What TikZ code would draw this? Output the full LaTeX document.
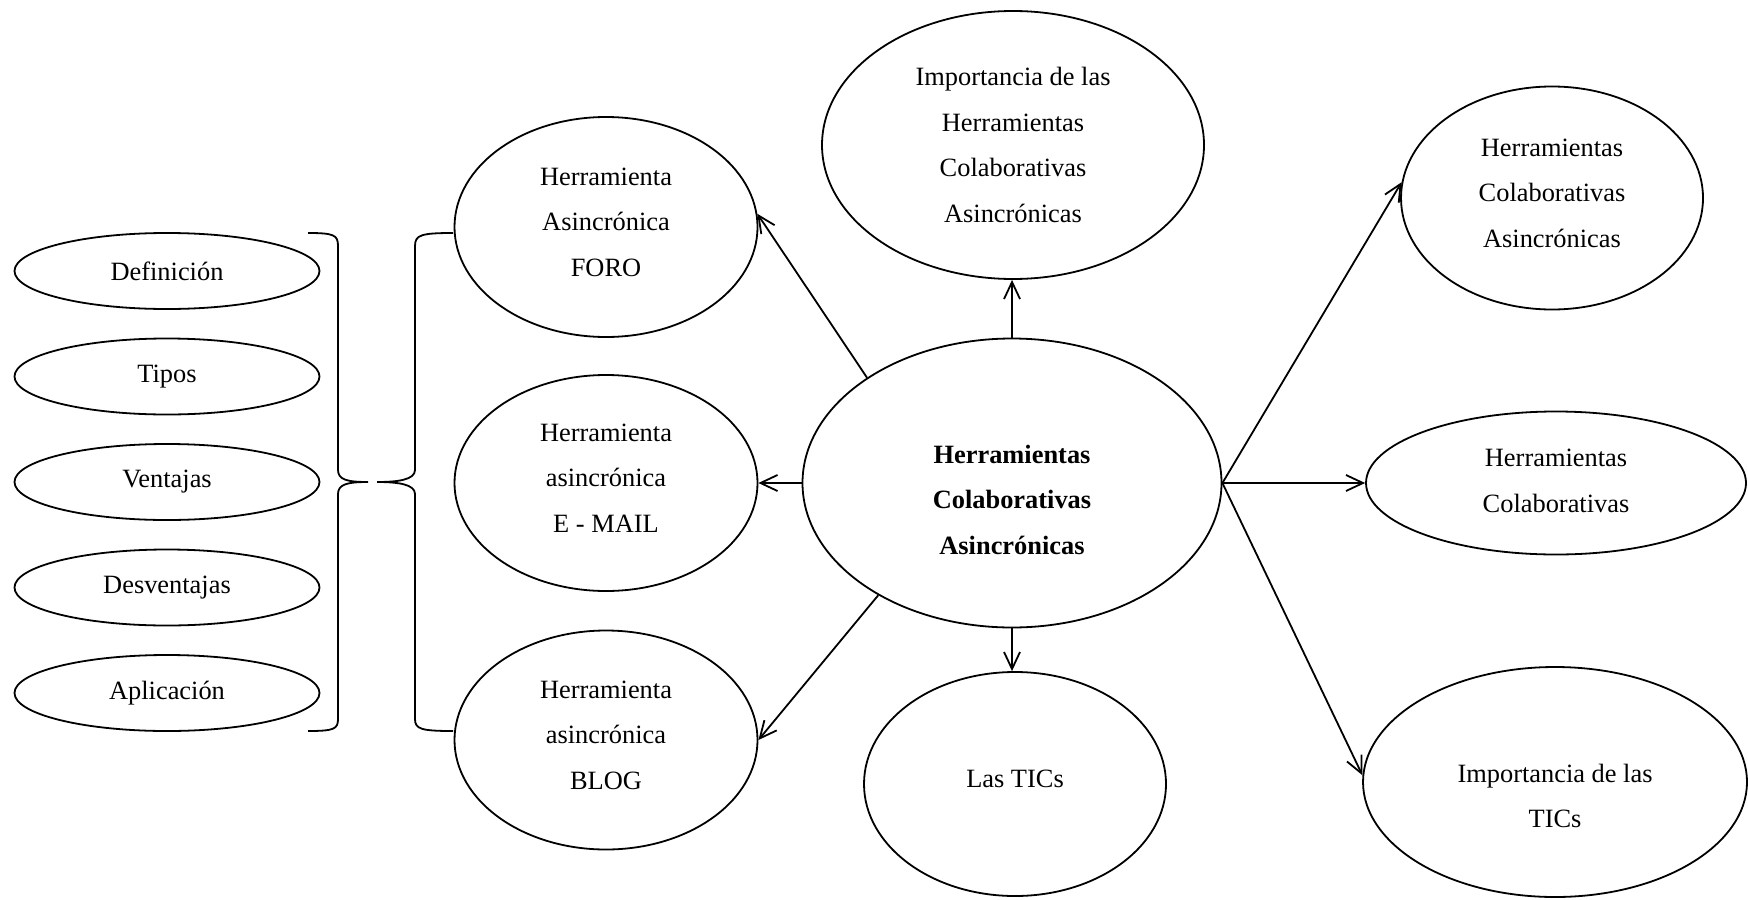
\documentclass[tikz,border=0pt]{standalone}
\usepackage{fontspec}
\setmainfont{Liberation Serif}
\usetikzlibrary{shapes.geometric,arrows.meta}
\newcommand{\lastdepth}{\rule[-5pt]{0pt}{0pt}}

\begin{document}
\begin{tikzpicture}[x=0.5pt, y=-0.5pt,
    every node/.style={font=\fontsize{13.2}{22.85}\selectfont, align=center},
    oval/.style 2 args={ellipse, draw, line width=0.9pt, inner sep=0pt,
        minimum width=#1, minimum height=#2},
    arr/.style={line width=0.9pt, -{Straight Barb[length=8.5pt, width=8pt]}},
    brace/.style={line width=0.9pt}]
    \useasboundingbox (0,0) rectangle (1748,899);
    \begin{scope}
        \foreach \txt [count=\i] in {Definición, Tipos, Ventajas, Desventajas, Aplicación}
            \node[oval={152.5pt}{38pt}] (item\i) at (167, 165.5+105.5*\i) {\txt};
        \draw[brace] (308,233) .. controls (334,233) and (338,235) .. (338,246)
            -- (338,470) .. controls (338,480) and (348,482) .. (368,482)
            .. controls (348,482) and (338,484) .. (338,494)
            -- (338,719) .. controls (338,729) and (334,731) .. (308,731);
        \draw[brace] (453,233) .. controls (421,233) and (415,235) .. (415,246)
            -- (415,470) .. controls (415,480) and (397,482) .. (377,482)
            .. controls (397,482) and (415,484) .. (415,494)
            -- (415,719) .. controls (415,729) and (421,731) .. (453,731);
    \end{scope}
    \begin{scope}
        \node[oval={151.5pt}{110pt}] (foro) at (606, 227)
            {Herramienta\\Asincrónica\\FORO\lastdepth};
        \node[oval={151.5pt}{108pt}] (email) at (606, 483)
            {Herramienta\\asincrónica\\E - MAIL\lastdepth};
        \node[oval={151.5pt}{109.5pt}] (blog) at (606, 740)
            {Herramienta\\asincrónica\\BLOG\lastdepth};
        \node[oval={209.5pt}{144.5pt}, font=\fontsize{13.2}{22.85}\selectfont\bfseries] (main) at (1012, 483)
            {\rule{0pt}{26pt}Herramientas\\Colaborativas\\Asincrónicas};
        \node[oval={191pt}{134pt}] (importherr) at (1013, 145)
            {Importancia de las\\Herramientas\\Colaborativas\\Asincrónicas};
        \node[oval={151pt}{112pt}] (tics) at (1015, 784) {Las TICs\lastdepth};
    \end{scope}
    \begin{scope}
        \node[oval={151pt}{111.5pt}] (hca) at (1552, 198)
            {Herramientas\\Colaborativas\\Asincrónicas\lastdepth};
        \node[oval={190pt}{71.5pt}] (hc) at (1556, 483)
            {Herramientas\\Colaborativas\rule[-2pt]{0pt}{0pt}};
        \node[oval={192pt}{115pt}] (importtics) at (1555, 782)
            {\rule{0pt}{23pt}Importancia de las\\TICs};
    \end{scope}
    \draw[arr] (main.144) -- (foro.5);
    \draw[arr] (main.west) -- (email.east);
    \draw[arr] (main.-140) -- (blog.east);
    \draw[arr] (main.north) -- (main.north |- importherr.south);
    \draw[arr] (main.south) -- (main.south |- tics.north);
    \draw[arr] (main.east) -- (hca.174);
    \draw[arr] (main.east) -- (hc.west);
    \draw[arr] (main.east) -- (importtics.178);
\end{tikzpicture}
\end{document}
